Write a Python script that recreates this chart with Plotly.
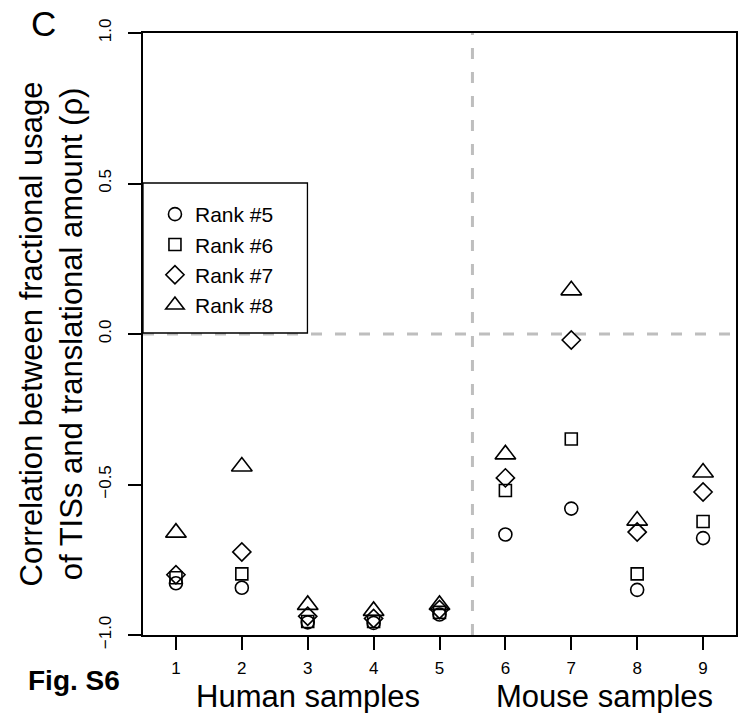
import plotly.graph_objects as go

samples = [1, 2, 3, 4, 5, 6, 7, 8, 9]
rank5 = [-0.828, -0.843, -0.958, -0.960, -0.932, -0.666, -0.580, -0.850, -0.678]
rank6 = [-0.810, -0.797, -0.955, -0.955, -0.925, -0.520, -0.349, -0.797, -0.623]
rank7 = [-0.800, -0.724, -0.938, -0.945, -0.915, -0.478, -0.020, -0.658, -0.525]
rank8 = [-0.660, -0.440, -0.900, -0.920, -0.900, -0.400, 0.145, -0.620, -0.460]
series_names = ["Rank #5", "Rank #6", "Rank #7", "Rank #8"]
y_ticks = [-1.0, -0.5, 0.0, 0.5, 1.0]
y_ticktext = ["\u22121.0", "\u22120.5", "0.0", "0.5", "1.0"]

FONT = "Liberation Sans, Arial, Helvetica, sans-serif"

W, H = 739, 713
L, R, T, B = 143, 1, 33, 78
PW, PH = W - L - R, H - T - B

def px(xp):
    return (xp - L) / PW

def py(yp):
    return (H - B - yp) / PH

symbols = ["circle-open", "square-open", "diamond-open", "triangle-up-open"]
sizes = [13, 12, 14, 18]
fig = go.Figure()
for name, vals, sym, sz in zip(series_names, [rank5, rank6, rank7, rank8], symbols, sizes):
    fig.add_trace(go.Scatter(
        x=samples, y=vals, mode="markers", name=name,
        marker=dict(symbol=sym, size=sz, color="black", line=dict(width=1.6, color="black")),
    ))

# dashed reference lines
fig.add_shape(type="line", xref="x", yref="y", x0=5.5, x1=5.5, y0=-1, y1=1,
              line=dict(color="#BEBEBE", width=3, dash="11px,13px"), layer="below")
fig.add_shape(type="line", xref="x", yref="y", x0=0.5, x1=9.5, y0=0, y1=0,
              line=dict(color="#BEBEBE", width=3, dash="11px,13px"), layer="below")
# legend box
fig.add_shape(type="rect", xref="paper", yref="paper", x0=0, x1=px(308), y0=py(333), y1=py(183),
              line=dict(color="black", width=1.3), fillcolor="white", layer="above")

ann = []
ann.append(dict(text="Correlation between fractional usage", textangle=-90, xref="paper", yref="paper",
                x=px(31), y=0.5, xanchor="center", yanchor="middle", showarrow=False,
                font=dict(size=31, family=FONT, color="black")))
ann.append(dict(text="of TISs and translational amount (\u03c1)", textangle=-90, xref="paper", yref="paper",
                x=px(71), y=0.5, xanchor="center", yanchor="middle", showarrow=False,
                font=dict(size=31, family=FONT, color="black")))
ann.append(dict(text="Human samples", xref="x", yref="paper", x=3, y=py(696), xanchor="center",
                yanchor="middle", showarrow=False, borderpad=0,
                font=dict(size=31, family=FONT, color="black")))
ann.append(dict(text="Mouse samples", xref="x", yref="paper", x=7.5, y=py(696), xanchor="center",
                yanchor="middle", showarrow=False, borderpad=0,
                font=dict(size=31, family=FONT, color="black")))
ann.append(dict(text="<b>Fig. S6</b>", xref="paper", yref="paper", x=px(74), y=py(680), xanchor="center",
                yanchor="middle", showarrow=False, borderpad=0,
                font=dict(size=28, family=FONT, color="black")))
ann.append(dict(text="C", xref="paper", yref="paper", x=px(43.5), y=py(23.5), xanchor="center",
                yanchor="middle", showarrow=False, font=dict(size=35, family=FONT, color="black")))

fig.update_layout(
    width=W, height=H, margin=dict(l=L, r=R, t=T, b=B),
    plot_bgcolor="white", paper_bgcolor="white",
    font=dict(family=FONT, color="black"),
    annotations=ann,
    showlegend=True,
    legend=dict(x=px(155), y=py(194), xanchor="left", yanchor="top",
                bgcolor="rgba(0,0,0,0)", borderwidth=0,
                font=dict(size=21, family=FONT, color="black"),
                itemsizing="trace", tracegroupgap=0),
    xaxis=dict(range=[0.5, 9.5], tickvals=samples, ticks="outside", ticklen=13, tickwidth=1.5,
               tickcolor="black", showline=True, linecolor="black", linewidth=1.5, mirror=True,
               showgrid=False, zeroline=False, tickfont=dict(size=17, family=FONT, color="black"),
               ticklabelstandoff=4),
    yaxis=dict(range=[-1, 1], tickvals=y_ticks, ticktext=y_ticktext, ticks="outside", ticklen=13,
               tickwidth=1.5, tickcolor="black", showline=True, linecolor="black", linewidth=1.5,
               mirror=True, showgrid=False, zeroline=False, tickangle=-90,
               tickfont=dict(size=17, family=FONT, color="black"), ticklabelstandoff=10),
)

fig.write_html("out.html")
